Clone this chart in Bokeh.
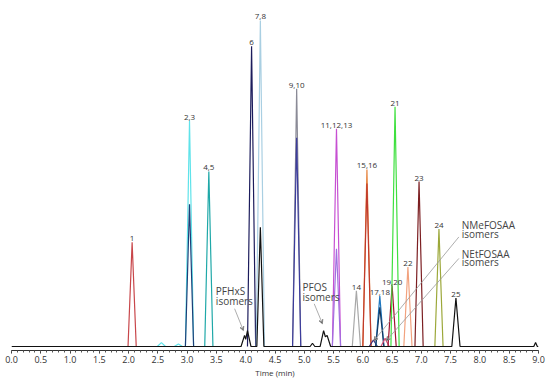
from bokeh.plotting import figure
from bokeh.models import (ColumnDataSource, SingleIntervalTicker, PrintfTickFormatter,
                          Arrow, VeeHead, Range1d)
from bokeh.core.properties import value
from bokeh.embed import file_html
from bokeh.resources import INLINE

# ---- data (time in min, relative intensity) ----
trace_times = [2.06, 2.56, 2.85, 3.04, 3.04, 3.37, 4.10, 4.25, 4.87, 4.87,
               5.55, 5.55, 5.89, 6.07, 6.07, 6.18, 6.29, 6.29, 6.38, 6.50,
               6.55, 6.77, 6.96, 7.30]
trace_heights = [32.0, 1.2, 0.8, 69.2, 43.6, 53.7, 92.1, 100.0, 79.0, 64.0,
                 66.8, 30.0, 17.1, 54.3, 50.0, 2.0, 15.5, 12.0, 2.5, 18.6,
                 73.5, 24.4, 50.6, 36.0]
trace_colors = ["#c8464a", "#5fe3ea", "#5fe3ea", "#5fe3ea", "#1d3f78", "#1fa8a8",
                "#1c1c5c", "#a9cfe2", "#8a8a96", "#3c3c9c",
                "#c64fd2", "#a070e0", "#a8a8a8", "#e6843f", "#c0392b", "#3a2a7a",
                "#1f78c0", "#13365e", "#d0507a", "#a0122e",
                "#3fe03f", "#f2a27e", "#7c1f22", "#9ca83a"]

# black channel (baseline with isomer peaks, peak 7,8 companion and 25)
black_times = [0.0, 3.92, 3.98, 4.00, 4.03, 4.09, 4.19, 4.25, 4.31, 5.10, 5.14, 5.18,
               5.27, 5.33, 5.36, 5.39, 5.45, 7.52, 7.59, 7.66, 8.92, 8.95, 8.98, 9.0]
black_values = [0.0, 0.0, 3.4, 2.2, 4.9, 0.0, 0.0, 36.6, 0.0, 0.0, 1.0, 0.0,
                0.0, 4.9, 3.0, 3.4, 0.0, 0.0, 14.9, 0.0, 0.0, 1.2, 0.0, 0.0]

peak_labels = ["1", "2,3", "4,5", "6", "7,8", "9,10", "11,12,13", "14", "15,16",
               "17,18", "19,20", "21", "22", "23", "24", "25"]
label_times = [2.06, 3.04, 3.37, 4.10, 4.25, 4.87, 5.55, 5.89, 6.07,
               6.29, 6.50, 6.55, 6.77, 6.96, 7.30, 7.59]
label_heights = [32.0, 69.2, 53.7, 92.1, 100.0, 79.0, 66.8, 17.1, 54.3,
                 15.5, 18.6, 73.5, 24.4, 50.6, 36.0, 14.9]

note_texts = ["PFHxS", "isomers", "PFOS", "isomers",
              "NMeFOSAA", "isomers", "NEtFOSAA", "isomers"]
note_x = [3.49, 3.49, 4.97, 4.97, 7.69, 7.69, 7.69, 7.69]
note_y = [17.1, 14.0, 18.3, 15.2, 37.2, 34.5, 28.4, 25.9]

arrow_x0 = [3.81, 5.17, 7.64, 7.64]
arrow_y0 = [11.6, 13.1, 33.6, 27.0]
arrow_x1 = [3.96, 5.31, 6.19, 6.40]
arrow_y1 = [4.9, 7.0, 1.8, 1.8]

HALF_WIDTH = 0.07

# ---- figure ----
p = figure(width=546, height=380, output_backend="svg", toolbar_location=None,
           x_range=Range1d(0, 9.0), y_range=Range1d(-1.22, 106.1),
           y_axis_location=None,
           min_border_left=11, min_border_right=8, min_border_top=0,
           min_border_bottom=28)
p.xgrid.visible = False
p.ygrid.visible = False
p.outline_line_color = None
p.background_fill_color = "white"
p.border_fill_color = "white"

# colored channels as peak segments
xs = [[t - HALF_WIDTH, t, t + HALF_WIDTH] for t in trace_times]
ys = [[0.0, h, 0.0] for h in trace_heights]
src = ColumnDataSource(dict(xs=xs, ys=ys, color=trace_colors))
p.multi_line("xs", "ys", source=src, line_color="color", line_width=1.2)

# black channel
p.line(black_times, black_values, line_color="#111111", line_width=1.2)

# peak labels
lab_src = ColumnDataSource(dict(x=label_times, y=label_heights, text=peak_labels))
p.text("x", "y", text="text", source=lab_src, text_align="center",
       text_baseline="bottom", y_offset=-1, text_font=value("Open Sans"),
       text_font_size="8px", text_color="#333333")

# annotation notes
note_src = ColumnDataSource(dict(x=note_x, y=note_y, text=note_texts))
p.text("x", "y", text="text", source=note_src, text_align="left",
       text_baseline="middle", text_font=value("Open Sans"),
       text_font_size="10px", text_color="#444444")

for x0, y0, x1, y1 in zip(arrow_x0, arrow_y0, arrow_x1, arrow_y1):
    p.add_layout(Arrow(end=VeeHead(size=4, line_color="#888888", line_width=1),
                       x_start=x0, y_start=y0, x_end=x1, y_end=y1,
                       line_color="#999999", line_width=0.8))

# x axis
ax = p.xaxis[0]
ax.ticker = SingleIntervalTicker(interval=0.5, num_minor_ticks=5)
ax.formatter = PrintfTickFormatter(format="%.1f")
ax.axis_label = "Time (min)"
ax.axis_label_text_font = "Open Sans"
ax.axis_label_text_font_style = "normal"
ax.axis_label_text_font_size = "8px"
ax.axis_label_text_color = "#333333"
ax.axis_label_standoff = 1
ax.major_label_text_font = "Open Sans"
ax.major_label_text_font_size = "9px"
ax.major_label_text_color = "#333333"
ax.major_label_standoff = 2
ax.axis_line_color = "#333333"
ax.major_tick_line_color = "#333333"
ax.minor_tick_line_color = "#555555"
ax.major_tick_out = 3
ax.major_tick_in = 0
ax.minor_tick_out = 2
ax.minor_tick_in = 0

open("out.html", "w").write(file_html(p, INLINE))
